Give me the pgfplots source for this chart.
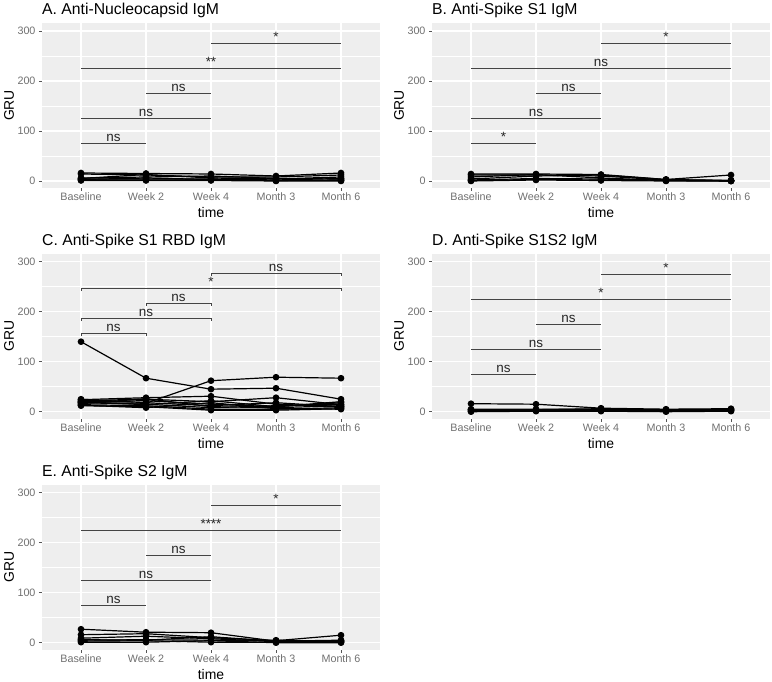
\documentclass[border=0pt]{standalone}
\usepackage{fontspec}
\setmainfont{Liberation Sans}
\usepackage{pgfplots}
\pgfplotsset{compat=1.18}
\definecolor{ggbg}{HTML}{EEEEEE}
\definecolor{ggtxt}{HTML}{707070}
\definecolor{ggtick}{HTML}{555555}
\definecolor{ggsig}{HTML}{444444}
\tikzset{
  siglab/.style={anchor=base, yshift=2bp, inner sep=0pt, font=\fontsize{13.5}{16}\selectfont, text=black!85},
}
\pgfplotsset{
  ggpanel/.style={
    scale only axis, width=338bp, height=165bp,
    xmin=0.4, xmax=5.6, ymin=-14, ymax=316,
    xtick={1,2,3,4,5}, xticklabels={Baseline,Week 2,Week 4,Month 3,Month 6},
    ytick={0,100,200,300}, minor ytick={50,150,250},
    grid=both,
    major grid style={white, line width=1.2bp},
    minor grid style={white, line width=0.6bp},
    axis background/.style={fill=ggbg, draw=none},
    axis x line*=bottom, axis y line*=left, axis line style={draw=none},
    tick align=outside, major tick length=3bp, minor tick length=0pt,
    every tick/.style={ggtick, line width=0.6bp},
    tick label style={font=\fontsize{10.8}{12}\selectfont, text=ggtxt},
    xticklabel style={inner sep=2bp},
    /pgf/number format/assume math mode=true,
    xlabel=time, ylabel=GRU,
    every axis x label/.style={at={(axis description cs:0.5,0)}, anchor=base, yshift=-30bp, font=\fontsize{14}{16}\selectfont},
    every axis y label/.style={at={(axis description cs:0,0.5)}, xshift=-33bp, rotate=90, anchor=center, font=\fontsize{14}{16}\selectfont},
    every axis title/.style={at={(axis description cs:0,1)}, anchor=base west, yshift=8bp, font=\fontsize{15.8}{18}\selectfont, inner sep=0pt},
    clip=false,
  },
  subj/.style={black, line width=1.2bp, mark=*, mark size=2.7bp, mark options={solid, fill=black}},
  sig/.style={ggsig, line width=0.8bp, forget plot},
}
\begin{document}
\begin{tikzpicture}
\useasboundingbox (0,0) rectangle (772bp,682bp);
% ---------------- A ----------------
\begin{axis}[ggpanel, at={(42bp,494bp)}, anchor=south west, title={A. Anti-Nucleocapsid IgM}]
\addplot[subj] coordinates {(1,16)(2,15)(3,14)(4,10)(5,16)};
\addplot[subj] coordinates {(1,14)(2,12)(3,8)(4,8)(5,12)};
\addplot[subj] coordinates {(1,5)(2,13)(3,6)(4,4)(5,8)};
\addplot[subj] coordinates {(1,4)(2,4)(3,4)(4,2)(5,5)};
\addplot[subj] coordinates {(1,3)(2,6)(3,3)(4,1)(5,2)};
\addplot[subj] coordinates {(1,2)(2,2)(3,2)(4,1)(5,1)};
\addplot[subj] coordinates {(1,6)(2,8)(3,10)(4,5)(5,4)};
\addplot[subj] coordinates {(1,1)(2,1)(3,1)(4,0)(5,0)};
\addplot[sig] coordinates {(1,75)(2,75)};
\addplot[sig] coordinates {(1,125)(3,125)};
\addplot[sig] coordinates {(2,175)(3,175)};
\addplot[sig] coordinates {(1,225)(5,225)};
\addplot[sig] coordinates {(3,275)(5,275)};
\node[siglab] at (axis cs:1.5,75) {ns};
\node[siglab] at (axis cs:2,125) {ns};
\node[siglab] at (axis cs:2.5,175) {ns};
\node[siglab] at (axis cs:3,225) {**};
\node[siglab] at (axis cs:4,275) {*};
\end{axis}
% ---------------- B ----------------
\begin{axis}[ggpanel, at={(432bp,494bp)}, anchor=south west, title={B. Anti-Spike S1 IgM}]
\addplot[subj] coordinates {(1,14)(2,14)(3,13)(4,3)(5,12)};
\addplot[subj] coordinates {(1,12)(2,12)(3,10)(4,2)(5,1)};
\addplot[subj] coordinates {(1,8)(2,13)(3,6)(4,1)(5,0)};
\addplot[subj] coordinates {(1,4)(2,10)(3,12)(4,3)(5,1)};
\addplot[subj] coordinates {(1,2)(2,5)(3,4)(4,1)(5,0)};
\addplot[subj] coordinates {(1,0)(2,2)(3,1)(4,0)(5,0)};
\addplot[subj] coordinates {(1,1)(2,3)(3,2)(4,2)(5,1)};
\addplot[sig] coordinates {(1,75)(2,75)};
\addplot[sig] coordinates {(1,125)(3,125)};
\addplot[sig] coordinates {(2,175)(3,175)};
\addplot[sig] coordinates {(1,225)(5,225)};
\addplot[sig] coordinates {(3,275)(5,275)};
\node[siglab] at (axis cs:1.5,75) {*};
\node[siglab] at (axis cs:2,125) {ns};
\node[siglab] at (axis cs:2.5,175) {ns};
\node[siglab] at (axis cs:3,225) {ns};
\node[siglab] at (axis cs:4,275) {*};
\end{axis}
% ---------------- C ----------------
\begin{axis}[ggpanel, at={(42bp,263.3bp)}, anchor=south west, title={C. Anti-Spike S1 RBD IgM}]
\addplot[subj] coordinates {(1,140)(2,67)(3,45)(4,47)(5,25)};
\addplot[subj] coordinates {(1,18)(2,17)(3,62)(4,69)(5,67)};
\addplot[subj] coordinates {(1,24)(2,28)(3,31)(4,15)(5,10)};
\addplot[subj] coordinates {(1,22)(2,25)(3,20)(4,28)(5,14)};
\addplot[subj] coordinates {(1,20)(2,22)(3,15)(4,10)(5,18)};
\addplot[subj] coordinates {(1,16)(2,26)(3,10)(4,8)(5,12)};
\addplot[subj] coordinates {(1,14)(2,12)(3,5)(4,5)(5,8)};
\addplot[subj] coordinates {(1,12)(2,10)(3,3)(4,3)(5,6)};
\addplot[subj] coordinates {(1,18)(2,15)(3,8)(4,12)(5,15)};
\addplot[subj] coordinates {(1,25)(2,18)(3,12)(4,18)(5,10)};
\addplot[subj] coordinates {(1,13)(2,8)(3,18)(4,6)(5,5)};
\addplot[subj] coordinates {(1,20)(2,14)(3,22)(4,10)(5,20)};
\addplot[sig] coordinates {(1,151)(1,157)(2,157)(2,151)};
\addplot[sig] coordinates {(1,181)(1,187)(3,187)(3,181)};
\addplot[sig] coordinates {(2,211)(2,217)(3,217)(3,211)};
\addplot[sig] coordinates {(1,241)(1,247)(5,247)(5,241)};
\addplot[sig] coordinates {(3,271)(3,277)(5,277)(5,271)};
\node[siglab] at (axis cs:1.5,157) {ns};
\node[siglab] at (axis cs:2,187) {ns};
\node[siglab] at (axis cs:2.5,217) {ns};
\node[siglab] at (axis cs:3,247) {*};
\node[siglab] at (axis cs:4,277) {ns};
\end{axis}
% ---------------- D ----------------
\begin{axis}[ggpanel, at={(432bp,263.3bp)}, anchor=south west, title={D. Anti-Spike S1S2 IgM}]
\addplot[subj] coordinates {(1,16)(2,15)(3,7)(4,5)(5,6)};
\addplot[subj] coordinates {(1,5)(2,5)(3,5)(4,3)(5,4)};
\addplot[subj] coordinates {(1,3)(2,3)(3,3)(4,2)(5,3)};
\addplot[subj] coordinates {(1,1)(2,2)(3,2)(4,1)(5,2)};
\addplot[subj] coordinates {(1,0)(2,1)(3,1)(4,0)(5,1)};
\addplot[subj] coordinates {(1,4)(2,4)(3,6)(4,4)(5,5)};
\addplot[sig] coordinates {(1,75)(2,75)};
\addplot[sig] coordinates {(1,125)(3,125)};
\addplot[sig] coordinates {(2,175)(3,175)};
\addplot[sig] coordinates {(1,225)(5,225)};
\addplot[sig] coordinates {(3,275)(5,275)};
\node[siglab] at (axis cs:1.5,75) {ns};
\node[siglab] at (axis cs:2,125) {ns};
\node[siglab] at (axis cs:2.5,175) {ns};
\node[siglab] at (axis cs:3,225) {*};
\node[siglab] at (axis cs:4,275) {*};
\end{axis}
% ---------------- E ----------------
\begin{axis}[ggpanel, at={(42bp,32.3bp)}, anchor=south west, title={E. Anti-Spike S2 IgM}]
\addplot[subj] coordinates {(1,27)(2,21)(3,20)(4,3)(5,5)};
\addplot[subj] coordinates {(1,16)(2,18)(3,10)(4,4)(5,15)};
\addplot[subj] coordinates {(1,9)(2,13)(3,8)(4,2)(5,3)};
\addplot[subj] coordinates {(1,5)(2,6)(3,5)(4,5)(5,2)};
\addplot[subj] coordinates {(1,3)(2,4)(3,1)(4,1)(5,1)};
\addplot[subj] coordinates {(1,1)(2,1)(3,4)(4,0)(5,0)};
\addplot[subj] coordinates {(1,6)(2,5)(3,12)(4,3)(5,4)};
\addplot[sig] coordinates {(1,75)(2,75)};
\addplot[sig] coordinates {(1,125)(3,125)};
\addplot[sig] coordinates {(2,175)(3,175)};
\addplot[sig] coordinates {(1,225)(5,225)};
\addplot[sig] coordinates {(3,275)(5,275)};
\node[siglab] at (axis cs:1.5,75) {ns};
\node[siglab] at (axis cs:2,125) {ns};
\node[siglab] at (axis cs:2.5,175) {ns};
\node[siglab] at (axis cs:3,225) {****};
\node[siglab] at (axis cs:4,275) {*};
\end{axis}
\end{tikzpicture}
\end{document}
